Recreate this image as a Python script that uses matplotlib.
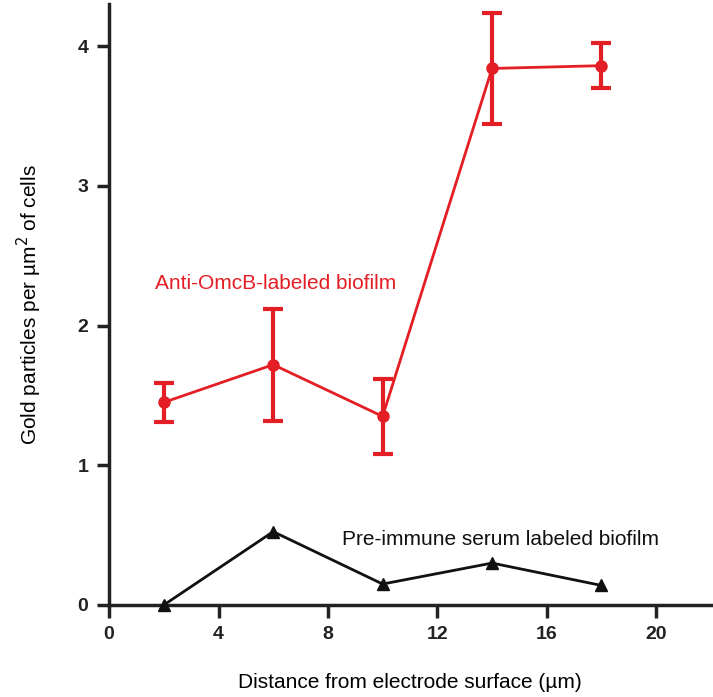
import matplotlib
matplotlib.use("Agg")
import matplotlib.pyplot as plt

plt.rcParams["font.family"] = ["Liberation Sans", "DejaVu Sans"]

distance = [2, 6, 10, 14, 18]

omcb_mean = [1.45, 1.72, 1.35, 3.84, 3.86]
omcb_err = [0.14, 0.40, 0.27, 0.40, 0.16]

preimmune_mean = [0.0, 0.525, 0.15, 0.30, 0.14]

red = "#e31e24"

fig = plt.figure(figsize=(7.13, 6.97), dpi=100)
ax = fig.add_axes([0.153, 0.132, 0.844, 0.862])

ax.errorbar(distance, omcb_mean, yerr=omcb_err, color=red, lw=2, marker="o",
            ms=8, elinewidth=3, capsize=7, capthick=3, clip_on=False, zorder=3)
ax.plot(distance, preimmune_mean, color="#111111", lw=2, marker="^", ms=8,
        clip_on=False, zorder=3)

ax.text(1.68, 2.30, "Anti-OmcB-labeled biofilm", color=red, fontsize=15, va="center")
ax.text(8.52, 0.47, "Pre-immune serum labeled biofilm", color="#111111", fontsize=15,
        va="center")

ax.set_xlim(0, 22)
ax.set_ylim(0, 4.3)
ax.set_xticks([0, 4, 8, 12, 16, 20])
ax.set_yticks([0, 1, 2, 3, 4])

for s in ["top", "right"]:
    ax.spines[s].set_visible(False)
for s in ["left", "bottom"]:
    ax.spines[s].set_linewidth(2.5)
    ax.spines[s].set_color("#222222")

ax.tick_params(direction="out", length=9, width=2.5, colors="#222222",
               labelsize=14, pad=6)
for lab in ax.get_xticklabels() + ax.get_yticklabels():
    lab.set_fontweight("bold")

ax.set_xlabel("Distance from electrode surface (µm)", fontsize=15, labelpad=22)
ax.set_ylabel("Gold particles per µm$^2$ of cells", fontsize=15, labelpad=24)

fig.savefig("out.png", dpi=100)
